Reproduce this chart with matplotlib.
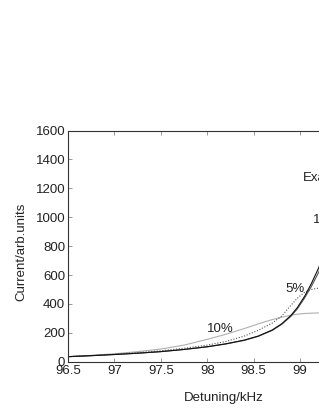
import matplotlib
matplotlib.use("Agg")
import matplotlib.pyplot as plt

plt.rcParams['font.family'] = ['Liberation Sans', 'DejaVu Sans']

# detuning (kHz) and current (arb. units)
det = [96.5, 96.75, 97.0, 97.25, 97.5, 97.75, 98.0, 98.2, 98.4, 98.55, 98.7,
       98.8, 98.9, 98.97, 99.05, 99.12, 99.2, 99.3, 99.4, 99.5]
exact = [35, 42, 50, 59, 70, 85, 104, 124, 150, 178, 220,
         262, 320, 375, 455, 540, 650, 840, 1080, 1300]
pct1 = [35, 42, 50, 59, 70, 85, 103, 123, 148, 176, 217,
        258, 314, 366, 443, 520, 620, 790, 930, 990]
pct5 = [35, 43, 52, 63, 76, 93, 115, 140, 178, 218, 268,
        315, 390, 440, 482, 500, 510, 515, 517, 518]
pct10 = [35, 44, 55, 70, 88, 115, 155, 190, 230, 262, 292,
         308, 322, 329, 334, 336, 338, 338, 338, 338]

xticks = [96.5, 97, 97.5, 98, 98.5, 99, 99.5, 100]
xticklabels = ['96.5', '97', '97.5', '98', '98.5', '99', '99.5', '100']
yticks = [0, 200, 400, 600, 800, 1000, 1200, 1400, 1600]

fig = plt.figure(figsize=(3.19, 4.12), dpi=100)
# axes runs past the right edge, like the cropped original
ax = fig.add_axes([0.213, 0.122, 1.019, 0.561])

ax.plot(det, pct10, color='#b0b0b0', lw=0.8)
ax.plot(det, pct5, color='#555555', lw=0.8, ls=(0, (1, 1.5)))
ax.plot(det, pct1, color='#555555', lw=0.8)
ax.plot(det, exact, color='#111111', lw=0.8)

ax.text(98.14, 226, '10%', ha='center', va='center', fontsize=9.5, color='#222222')
ax.text(98.95, 503, '5%', ha='center', va='center', fontsize=9.5, color='#222222')
ax.text(99.03, 1272, 'Exact', ha='left', va='center', fontsize=9.5, color='#222222')
ax.text(99.14, 981, '1%', ha='left', va='center', fontsize=9.5, color='#222222')

ax.set_xlim(96.5, 100)
ax.set_ylim(0, 1600)
ax.set_xticks(xticks)
ax.set_xticklabels(xticklabels)
ax.set_yticks(yticks)
ax.tick_params(direction='in', length=3, width=0.6, labelsize=9.5, colors='#888888',
               labelcolor='#222222', top=True, pad=2)

for s in ax.spines.values():
    s.set_color('#333333')
    s.set_linewidth(0.8)

ax.set_xlabel('Detuning/kHz', fontsize=9.5, color='#222222')
ax.set_ylabel('Current/arb.units', fontsize=9.5, color='#222222')
ax.xaxis.set_label_coords(0.48, -0.13)
ax.yaxis.set_label_coords(-0.125, 0.477)

fig.savefig('out.png', dpi=100)
